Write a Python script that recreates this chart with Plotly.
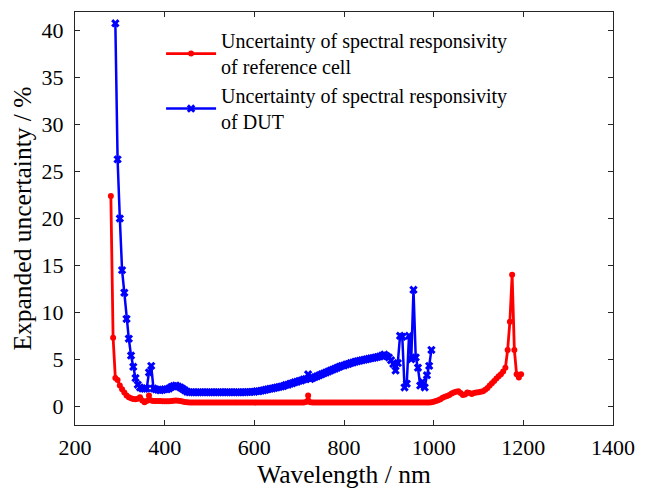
import plotly.graph_objects as go

# Reference cell: wavelength (nm) and expanded uncertainty (%)
wl_ref = [
    280, 285, 290, 295, 300, 305, 310, 315, 320, 325,
    330, 335, 340, 345, 350, 355, 360, 365, 370, 375,
    380, 385, 390, 395, 400, 405, 410, 415, 420, 425,
    430, 435, 440, 445, 450, 455, 460, 465, 470, 475,
    480, 485, 490, 495, 500, 505, 510, 515, 520, 525,
    530, 535, 540, 545, 550, 555, 560, 565, 570, 575,
    580, 585, 590, 595, 600, 605, 610, 615, 620, 625,
    630, 635, 640, 645, 650, 655, 660, 665, 670, 675,
    680, 685, 690, 695, 700, 705, 710, 715, 720, 725,
    730, 735, 740, 745, 750, 755, 760, 765, 770, 775,
    780, 785, 790, 795, 800, 805, 810, 815, 820, 825,
    830, 835, 840, 845, 850, 855, 860, 865, 870, 875,
    880, 885, 890, 895, 900, 905, 910, 915, 920, 925,
    930, 935, 940, 945, 950, 955, 960, 965, 970, 975,
    980, 985, 990, 995, 1000, 1005, 1010, 1015, 1020, 1025,
    1030, 1035, 1040, 1045, 1050, 1055, 1060, 1065, 1070, 1075,
    1080, 1085, 1090, 1095, 1100, 1105, 1110, 1115, 1120, 1125,
    1130, 1135, 1140, 1145, 1150, 1155, 1160, 1165, 1170, 1175,
    1180, 1185, 1190, 1195,
]
u_ref = [
    22.4, 7.3, 3.0, 2.8, 2.2, 1.8, 1.45, 1.15, 0.95, 0.85,
    0.78, 0.75, 0.8, 0.95, 0.6, 0.42, 0.55, 1.15, 0.6, 0.55,
    0.55, 0.55, 0.55, 0.53, 0.52, 0.52, 0.53, 0.56, 0.58, 0.6,
    0.58, 0.55, 0.5, 0.45, 0.42, 0.41, 0.4, 0.4, 0.4, 0.4,
    0.4, 0.4, 0.39, 0.39, 0.4, 0.4, 0.4, 0.39, 0.39, 0.4,
    0.4, 0.4, 0.39, 0.4, 0.4, 0.4, 0.39, 0.4, 0.4, 0.4,
    0.4, 0.39, 0.4, 0.4, 0.4, 0.39, 0.4, 0.4, 0.4, 0.4,
    0.4, 0.4, 0.39, 0.4, 0.4, 0.4, 0.4, 0.39, 0.4, 0.4,
    0.4, 0.4, 0.4, 0.4, 0.4, 0.4, 0.4, 0.45, 1.15, 0.42,
    0.4, 0.4, 0.39, 0.4, 0.4, 0.4, 0.39, 0.4, 0.4, 0.4,
    0.4, 0.4, 0.39, 0.4, 0.4, 0.4, 0.4, 0.39, 0.4, 0.4,
    0.4, 0.4, 0.4, 0.39, 0.4, 0.4, 0.4, 0.4, 0.39, 0.4,
    0.4, 0.4, 0.39, 0.4, 0.4, 0.4, 0.4, 0.39, 0.4, 0.4,
    0.4, 0.4, 0.4, 0.39, 0.4, 0.4, 0.4, 0.4, 0.4, 0.4,
    0.4, 0.4, 0.41, 0.43, 0.47, 0.55, 0.65, 0.75, 0.9, 1.0,
    1.1, 1.2, 1.35, 1.45, 1.55, 1.6, 1.4, 1.2, 1.25, 1.45,
    1.4, 1.3, 1.4, 1.45, 1.5, 1.55, 1.6, 1.75, 1.95, 2.2,
    2.45, 2.7, 2.95, 3.2, 3.4, 3.7, 4.1, 6.0, 9.0, 14.0,
    6.0, 3.4, 3.05, 3.4,
]

# Device under test: wavelength (nm) and expanded uncertainty (%)
wl_dut = [
    290, 295, 300, 305, 310, 315, 320, 325, 330, 335,
    340, 345, 350, 355, 360, 365, 370, 375, 380, 385,
    390, 395, 400, 405, 410, 415, 420, 425, 430, 435,
    440, 445, 450, 455, 460, 465, 470, 475, 480, 485,
    490, 495, 500, 505, 510, 515, 520, 525, 530, 535,
    540, 545, 550, 555, 560, 565, 570, 575, 580, 585,
    590, 595, 600, 605, 610, 615, 620, 625, 630, 635,
    640, 645, 650, 655, 660, 665, 670, 675, 680, 685,
    690, 695, 700, 705, 710, 715, 720, 725, 730, 735,
    740, 745, 750, 755, 760, 765, 770, 775, 780, 785,
    790, 795, 800, 805, 810, 815, 820, 825, 830, 835,
    840, 845, 850, 855, 860, 865, 870, 875, 880, 885,
    890, 895, 900, 905, 910, 915, 920, 925, 930, 935,
    940, 945, 950, 955, 960, 965, 970, 975, 980, 985,
    990, 995,
]
u_dut = [
    40.8, 26.3, 20.0, 14.5, 12.1, 9.3, 7.2, 5.4, 4.2, 3.0,
    2.3, 2.0, 1.9, 1.85, 1.9, 3.6, 4.3, 1.9, 1.8, 1.75,
    1.7, 1.75, 1.8, 1.8, 1.9, 2.05, 2.15, 2.2, 2.1, 2.0,
    1.85, 1.7, 1.55, 1.5, 1.5, 1.5, 1.48, 1.48, 1.5, 1.5,
    1.5, 1.48, 1.48, 1.5, 1.5, 1.5, 1.48, 1.5, 1.5, 1.5,
    1.5, 1.48, 1.5, 1.5, 1.5, 1.48, 1.5, 1.5, 1.5, 1.52,
    1.52, 1.53, 1.55, 1.6, 1.6, 1.65, 1.7, 1.75, 1.8, 1.85,
    1.9, 1.95, 2.0, 2.05, 2.1, 2.15, 2.25, 2.3, 2.4, 2.45,
    2.55, 2.6, 2.7, 2.75, 2.85, 2.9, 3.4, 2.9, 3.0, 3.1,
    3.2, 3.3, 3.4, 3.5, 3.6, 3.7, 3.8, 3.9, 4.0, 4.1,
    4.2, 4.3, 4.35, 4.45, 4.5, 4.6, 4.65, 4.75, 4.8, 4.85,
    4.9, 4.95, 5.0, 5.05, 5.1, 5.15, 5.2, 5.25, 5.3, 5.4,
    5.5, 5.35, 5.2, 4.9, 4.5, 3.8, 4.6, 7.5, 7.4, 2.0,
    2.4, 7.5, 5.0, 12.4, 5.2, 4.1, 2.2, 2.6, 2.0, 3.3,
    4.3, 6.0,
]

x_ticks = [200, 400, 600, 800, 1000, 1200, 1400]
y_ticks = [0, 5, 10, 15, 20, 25, 30, 35, 40]

name_ref = "Uncertainty of spectral responsivity<br>of reference cell"
name_dut = "Uncertainty of spectral responsivity<br>of DUT"

FONT = "'Liberation Serif', 'Times New Roman', Tinos, 'DejaVu Serif', serif"
AX = "#262626"

fig = go.Figure()
fig.add_trace(go.Scatter(
    x=wl_ref, y=u_ref, mode="lines+markers", name=name_ref,
    line=dict(color="#ff0000", width=2.8),
    marker=dict(symbol="circle", size=6, color="#ff0000"),
))
fig.add_trace(go.Scatter(
    x=wl_dut, y=u_dut, mode="lines+markers", name=name_dut,
    line=dict(color="#0000ff", width=2.5),
    marker=dict(symbol="x", size=7.5, color="#0000ff"),
))

axis_common = dict(
    showgrid=False, zeroline=False, showline=True, mirror="ticks",
    linecolor=AX, linewidth=1, ticks="inside", ticklen=5, tickwidth=1,
    tickcolor=AX, tickfont=dict(family=FONT, size=22, color="#000000"),
)

fig.update_layout(
    width=639, height=482,
    paper_bgcolor="white", plot_bgcolor="white",
    margin=dict(l=66.5, r=34, t=4, b=65),
    font=dict(family=FONT, color="#000000"),
    xaxis=dict(
        range=[200, 1400], tickvals=x_ticks, ticktext=[str(v) for v in x_ticks],
        title=dict(text="Wavelength / nm", font=dict(family=FONT, size=25.5), standoff=4),
        ticklabelstandoff=3,
        **axis_common,
    ),
    yaxis=dict(
        range=[-2, 42], tickvals=y_ticks, ticktext=[str(v) for v in y_ticks],
        title=dict(text="Expanded uncertainty / %", font=dict(family=FONT, size=25.5), standoff=6),
        ticklabelstandoff=6,
        **axis_common,
    ),
    legend=dict(
        x=0.16, y=0.978, xanchor="left", yanchor="top",
        bgcolor="rgba(0,0,0,0)", borderwidth=0,
        font=dict(family=FONT, size=20, color="#000000"),
        itemwidth=50, tracegroupgap=0,
    ),
    showlegend=True,
)

fig.write_html("out.html")
